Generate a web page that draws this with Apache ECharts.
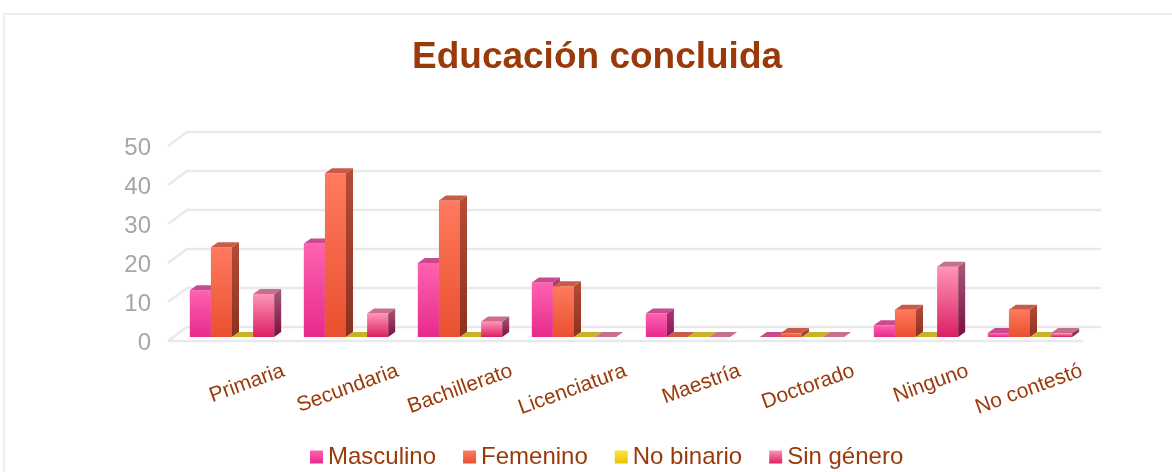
<!DOCTYPE html>
<html>
<head>
<meta charset="utf-8">
<script src="https://cdn.jsdelivr.net/npm/echarts@6/dist/echarts.min.js"></script>
<style>
  html, body { margin: 0; padding: 0; background: #fff; }
  #card { position: absolute; left: 3px; top: 13px; width: 1180px; height: 470px; border: 2px solid #eeeeee; box-sizing: border-box; }
  #chart { position: absolute; left: 0; top: 0; width: 1172px; height: 472px; }
</style>
</head>
<body>
<div id="card"></div>
<div id="chart"></div>
<script>
var categories = ['Primaria', 'Secundaria', 'Bachillerato', 'Licenciatura', 'Maestría', 'Doctorado', 'Ninguno', 'No contestó'];
var masculino = [12, 24, 19, 14, 6, 0, 3, 1];
var femenino = [23, 42, 35, 13, 0, 1, 7, 7];
var noBinario = [0, 0, 0, 0, 0, 0, 0, 0];
var sinGenero = [11, 6, 4, 0, 0, 0, 18, 1];
var yTicks = [0, 10, 20, 30, 40, 50];

var brown = '#9a3a0a';
var font = 'Liberation Sans, Arial, sans-serif';

function grad(a, b) {
    return new echarts.graphic.LinearGradient(0, 0, 0, 1, [
        { offset: 0, color: a },
        { offset: 1, color: b }
    ]);
}

// faces: front (top/bottom), side (top/bottom), top
var looks = [
    { front: ['#ff62b0', '#e62a8c'], side: ['#b3357c', '#8e1456'], top: '#c94b8e' },
    { front: ['#ff7a5e', '#e9502f'], side: ['#b54c38', '#8c311f'], top: '#c85c48' },
    { front: ['#ffe24a', '#e8c300'], side: ['#b09a10', '#8e7a00'], top: '#c9b128' },
    { front: ['#ff95b6', '#dc1f63'], side: ['#a8587a', '#7a0f40'], top: '#c7708e' }
];

var DX = 7, DY = 5;

function barRender(idx) {
    var look = looks[idx];
    return function (params, api) {
        var cat = api.value(0), val = api.value(1);
        var base = api.coord([cat, 0]);
        var top = api.coord([cat, val]);
        var band = api.size([1, 0])[0];
        var w = band * 0.185;
        var x0 = base[0] + (idx - 2) * w;
        var yb = base[1], yt = top[1];
        var kids = [];
        if (yb - yt > 0.5) {
            kids.push({
                type: 'rect',
                shape: { x: x0, y: yt, width: w, height: yb - yt },
                style: { fill: grad(look.front[0], look.front[1]) }
            });
            kids.push({
                type: 'polygon',
                shape: { points: [[x0 + w, yt], [x0 + w + DX, yt - DY], [x0 + w + DX, yb - DY], [x0 + w, yb]] },
                style: { fill: grad(look.side[0], look.side[1]) }
            });
        }
        kids.push({
            type: 'polygon',
            shape: { points: [[x0, yt], [x0 + DX, yt - DY], [x0 + w + DX, yt - DY], [x0 + w, yt]] },
            style: { fill: look.top }
        });
        return { type: 'group', children: kids };
    };
}

function gridRender(params, api) {
    var y = api.coord([0, api.value(1)])[1];
    var L = params.coordSys.x;
    var R = params.coordSys.x + params.coordSys.width;
    var kids = [{
        type: 'polyline',
        shape: { points: [[L - 7, y + 4], [L + 12, y - 10], [R + 14, y - 10]] },
        style: { stroke: '#e9e9e9', lineWidth: 2.5, fill: null }
    }];
    if (api.value(1) === 0) {
        kids.push({
            type: 'line',
            shape: { x1: L - 7, y1: y + 4, x2: R - 4, y2: y + 4 },
            style: { stroke: '#e9e9e9', lineWidth: 2.5 }
        });
    }
    return { type: 'group', children: kids };
}

function pairs(arr) {
    return arr.map(function (v, i) { return [i, v]; });
}

var names = ['Masculino', 'Femenino', 'No binario', 'Sin género'];
var values = [masculino, femenino, noBinario, sinGenero];

var series = [{
    type: 'custom',
    name: 'grid',
    renderItem: gridRender,
    data: yTicks.map(function (v) { return [0, v]; }),
    encode: { x: 0, y: 1 },
    silent: true,
    z: 1
}];
values.forEach(function (arr, i) {
    series.push({
        type: 'custom',
        name: names[i],
        renderItem: barRender(i),
        data: pairs(arr),
        encode: { x: 0, y: 1 },
        itemStyle: { color: grad(looks[i].front[0], looks[i].front[1]) },
        z: 2
    });
});

var chart = echarts.init(document.getElementById('chart'));
chart.setOption({
    animation: false,
    title: {
        text: 'Educación concluida',
        left: 407,
        top: 34,
        textStyle: { fontFamily: font, fontSize: 37, fontWeight: 'bold', color: brown }
    },
    legend: {
        data: names,
        left: 305,
        top: 440,
        icon: 'rect',
        itemWidth: 13,
        itemHeight: 13,
        itemGap: 27,
        textStyle: { fontFamily: font, fontSize: 24, color: brown }
    },
    grid: { left: 175, width: 912, top: 142, bottom: 135 },
    xAxis: {
        type: 'category',
        data: categories,
        axisLine: { show: false },
        axisTick: { show: false },
        axisLabel: {
            interval: 0,
            rotate: 20,
            margin: 52,
            padding: [0, -55, 0, 0],
            fontFamily: font,
            fontSize: 21,
            color: brown
        }
    },
    yAxis: {
        type: 'value',
        min: 0,
        max: 50,
        interval: 10,
        splitLine: { show: false },
        axisLine: { show: false },
        axisTick: { show: false },
        axisLabel: {
            margin: 24,
            verticalAlign: 'top',
            padding: [-6, 0, 0, 0],
            fontFamily: font,
            fontSize: 24,
            color: '#a6a6a6'
        }
    },
    series: series
});
</script>
</body>
</html>
